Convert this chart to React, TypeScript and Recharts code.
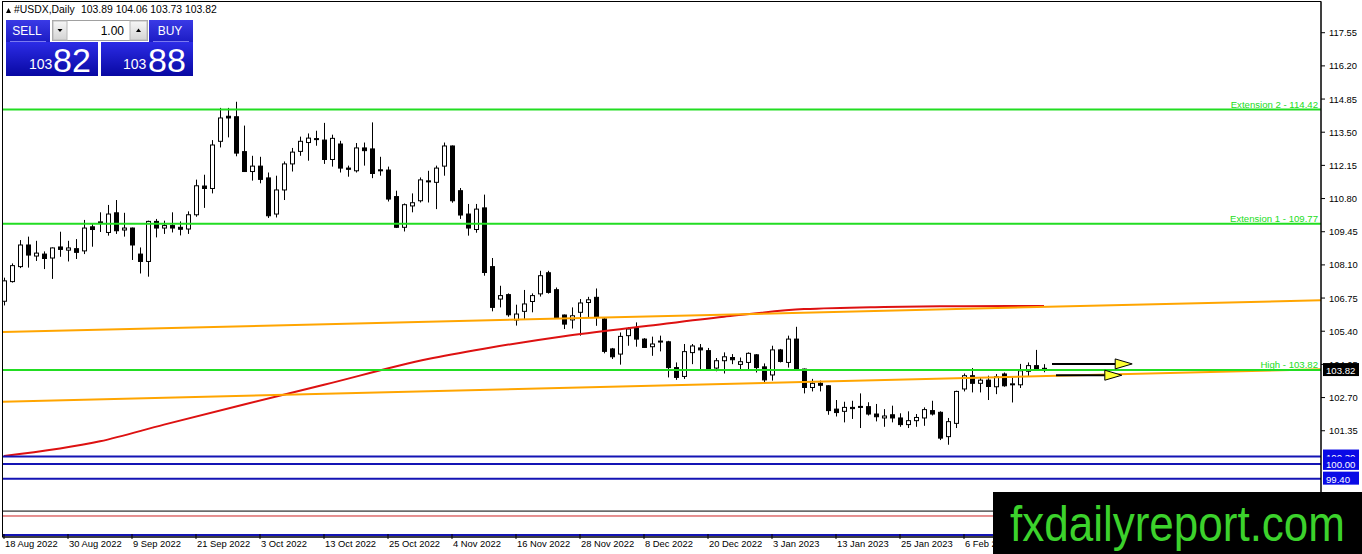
import React from "react";
import { Bar, ComposedChart, Line, ReferenceLine, XAxis, YAxis } from "recharts";

// USDX daily, 18 Aug 2022 .. 20 Feb 2023 (one entry per bar)
const opens = [
  106.62, 107.42, 108.03, 108.91, 108.46, 108.54, 108.38, 108.83, 108.7, 108.76,
  108.67, 109.65, 109.82, 109.42, 110.22, 109.52, 109.6, 108.54, 108.24, 109.87,
  109.6, 109.7, 109.63, 109.56, 110.14, 111.31, 111.21, 113.13, 114.15, 114.13,
  112.71, 111.9, 112.12, 111.64, 110.17, 111.15, 112.21, 112.72, 113.08, 113.24,
  113.18, 112.39, 113.02, 112.04, 111.93, 112.86, 112.82, 111.97, 111.96, 110.88,
  109.63, 110.5, 110.71, 111.52, 111.46, 112.12, 112.94, 111.12, 110.17, 109.54,
  110.42, 108.03, 106.71, 106.89, 105.86, 106.21, 106.61, 106.92, 107.78, 107.09,
  106.06, 105.86, 106.17, 106.57, 106.78, 105.9, 104.68, 104.47, 105.22, 105.53,
  105.08, 104.77, 104.98, 104.97, 103.92, 103.56, 104.53, 104.72, 104.61, 103.9,
  104.2, 104.33, 104.05, 104.13, 104.44, 103.95, 103.62, 104.64, 104.13, 105.08,
  103.86, 103.11, 103.28, 103.18, 102.23, 102.14, 102.3, 102.34, 102.33, 102.03,
  101.87, 102.0, 101.87, 101.6, 101.76, 101.87, 102.17, 102.1, 101.11, 101.65,
  103.05, 103.59, 103.28, 103.41, 103.14, 103.66, 103.24, 103.22, 103.77, 104.0,
  103.89,
];
const highs = [
  107.58, 108.16, 109.11, 109.25, 109.08, 108.65, 108.81, 109.45, 109.08, 109.15,
  109.93, 109.76, 110.24, 110.54, 110.74, 110.22, 109.62, 108.81, 109.9, 109.97,
  109.9, 110.24, 109.87, 110.28, 111.57, 111.77, 113.18, 114.49, 114.49, 114.74,
  113.77, 112.54, 112.5, 111.86, 111.73, 112.31, 112.86, 113.32, 113.45, 113.56,
  113.88, 113.4, 113.15, 112.14, 113.06, 113.08, 113.9, 112.5, 112.1, 111.12,
  110.6, 111.01, 111.66, 111.93, 112.14, 113.08, 112.96, 111.23, 110.58, 110.58,
  110.96, 108.38, 107.25, 106.94, 106.48, 107.08, 106.94, 107.86, 107.86, 107.18,
  106.08, 106.37, 106.71, 106.8, 107.14, 105.94, 104.72, 105.35, 105.56, 105.76,
  105.12, 105.18, 105.22, 105.01, 104.13, 104.88, 104.88, 104.88, 104.72, 104.31,
  104.54, 104.47, 104.33, 104.54, 104.47, 104.09, 104.81, 104.68, 105.22, 105.58,
  103.88, 103.46, 103.39, 103.2, 102.6, 102.53, 102.57, 102.87, 102.51, 102.44,
  102.23, 102.37, 102.06, 102.14, 102.03, 102.3, 102.57, 102.14, 101.87, 102.98,
  103.68, 103.9, 103.52, 103.59, 103.66, 103.72, 103.52, 104.07, 104.13, 104.64,
  104.06,
];
const lows = [
  106.45, 107.38, 107.97, 107.99, 108.26, 107.93, 107.53, 108.43, 108.24, 108.34,
  108.54, 108.84, 109.44, 109.29, 109.36, 109.25, 108.3, 107.75, 107.62, 109.22,
  109.36, 109.42, 109.3, 109.36, 110.06, 110.42, 111.01, 112.88, 113.29, 112.52,
  111.88, 111.53, 111.42, 110.01, 110.03, 110.74, 111.9, 112.54, 112.34, 112.95,
  112.21, 112.1, 111.86, 111.69, 111.86, 112.14, 111.63, 111.73, 110.68, 109.6,
  109.46, 110.24, 110.64, 110.64, 110.37, 111.73, 110.63, 109.97, 109.29, 109.41,
  107.66, 106.21, 106.37, 105.99, 105.63, 105.9, 106.17, 106.81, 106.93, 105.94,
  105.49, 105.51, 105.22, 105.96, 105.62, 104.5, 104.27, 104.04, 104.81, 104.77,
  104.72, 104.4, 104.58, 103.52, 103.42, 103.46, 104.06, 103.79, 103.79, 103.77,
  103.68, 104.06, 103.86, 103.82, 103.72, 103.28, 103.39, 104.13, 103.92, 103.82,
  102.87, 102.95, 102.95, 102.0, 101.93, 101.69, 101.83, 101.46, 101.97, 101.73,
  101.51, 101.69, 101.51, 101.46, 101.51, 101.55, 101.97, 100.97, 100.78, 101.46,
  102.95, 102.91, 102.91, 102.6, 102.84, 103.14, 102.5, 103.09, 103.55, 103.79,
  103.73,
];
const closes = [
  107.45, 108.07, 108.91, 108.5, 108.58, 108.36, 108.79, 108.73, 108.79, 108.61,
  109.6, 109.54, 109.85, 110.17, 109.49, 109.6, 108.91, 108.24, 109.87, 109.6,
  109.7, 109.6, 109.55, 110.14, 111.32, 111.21, 112.98, 114.08, 114.08, 112.65,
  111.9, 112.12, 111.58, 110.1, 111.15, 112.21, 112.69, 113.13, 113.26, 113.22,
  112.39, 113.25, 112.04, 111.99, 112.86, 112.75, 111.82, 111.95, 110.78, 109.63,
  110.55, 110.63, 111.56, 111.48, 112.04, 112.94, 110.71, 110.13, 109.6, 110.37,
  107.79, 106.37, 106.85, 106.07, 106.1, 106.51, 106.85, 107.66, 106.98, 105.96,
  105.69, 106.03, 106.55, 106.68, 105.96, 104.58, 104.36, 105.19, 105.49, 105.08,
  104.74, 104.88, 105.0, 103.92, 103.52, 104.57, 104.8, 104.64, 103.86, 104.2,
  104.36, 104.24, 104.16, 104.5, 103.92, 103.42, 104.64, 104.17, 105.08, 103.86,
  103.11, 103.28, 103.2, 102.17, 102.09, 102.3, 102.25, 102.31, 102.03, 101.92,
  101.95, 101.87, 101.6, 101.76, 101.89, 102.21, 102.03, 101.05, 101.72, 102.95,
  103.59, 103.28, 103.41, 103.15, 103.55, 103.18, 103.26, 103.79, 104.0, 103.86,
  103.82,
];

// red moving average, read at a few bars
const maBars = [0, 12, 20, 30, 40, 53, 60, 70, 80, 90, 100, 110, 120, 130];
const maValues = [
  100.32, 100.92, 101.6, 102.42, 103.22, 104.27, 104.69, 105.2, 105.6, 105.99,
  106.3, 106.39, 106.42, 106.43,
];

const dateLabels = [
  "18 Aug 2022", "30 Aug 2022", "9 Sep 2022", "21 Sep 2022", "3 Oct 2022",
  "13 Oct 2022", "25 Oct 2022", "4 Nov 2022", "16 Nov 2022", "28 Nov 2022",
  "8 Dec 2022", "20 Dec 2022", "3 Jan 2023", "13 Jan 2023", "25 Jan 2023",
  "6 Feb 2023",
];
const barsPerLabel = 8;

const priceTicks = [
  117.55, 116.2, 114.85, 113.5, 112.15, 110.8, 109.45, 108.1, 106.75, 105.4,
  104.05, 102.7, 101.35,
];

const fibLevels = [114.42, 109.77, 103.82];
const fibLabels = ["Extension 2 - 114.42", "Extension 1 - 109.77", "High - 103.82"];
const supportLevels = [100.3, 100.0, 99.4];
const lowerBlack = 98.08;
const lowerRed = 97.88;
const lowerBlue = 97.11;
const bidPrice = 103.82;
const askPrice = 103.88;
const lotSize = "1.00";

const upperTrend = [{ x: -0.125, y: 105.37 }, { x: 164.625, y: 106.66 }];
const lowerTrend = [{ x: -0.125, y: 102.53 }, { x: 164.625, y: 103.85 }];
const arrows = [
  { from: 131, to: 138.9, price: 104.07 },
  { from: 131.5, to: 137.6, price: 103.61 },
];

const xDomain = [-0.125, 164.625];
const yDomain = [97.025, 118.8];

const rows = opens.map((o, i) => {
  const k = maBars.indexOf(i);
  return {
    i,
    open: o,
    high: highs[i],
    low: lows[i],
    close: closes[i],
    range: [lows[i], highs[i]],
    ma: k >= 0 ? maValues[k] : null,
  };
});

const FONT = "Liberation Sans, Arial, sans-serif";
const GREEN = "#22dd22";
const NAVY = "#1414b4";
const TAG_BLUE = "#0a0ae6";

const Candle = (props: any) => {
  const { x, y, width, height, payload } = props;
  if (x == null || payload == null) return null;
  const top = Math.min(y, y + height);
  const h = Math.abs(height);
  const ratio = h / (payload.high - payload.low || 1);
  const cx = Math.round(x + width / 2) + 0.5;
  const bodyTop = top + (payload.high - Math.max(payload.open, payload.close)) * ratio;
  const bodyH = Math.max(1, Math.abs(payload.open - payload.close) * ratio);
  const up = payload.close >= payload.open;
  return (
    <g>
      <line x1={cx} x2={cx} y1={top} y2={top + h} stroke="#000" strokeWidth={1} />
      <rect
        x={cx - 2}
        y={bodyTop}
        width={4}
        height={bodyH}
        fill={up ? "#fff" : "#000"}
        stroke="#000"
        strokeWidth={1}
      />
    </g>
  );
};

const DateTick = (props: any) => {
  const { x, y, payload } = props;
  const label = dateLabels[Math.round(payload.value / barsPerLabel)];
  return (
    <g>
      <line x1={x} x2={x} y1={y - 3} y2={y + 2} stroke="#000" />
      <text x={x + 1} y={y + 10} fontSize={9.4} fontFamily={FONT} fill="#000">
        {label}
      </text>
    </g>
  );
};

const PriceTick = (props: any) => {
  const { x, y, payload } = props;
  return (
    <g>
      <line x1={x} x2={x + 4} y1={y} y2={y} stroke="#000" />
      <text x={x + 8} y={y + 3.5} fontSize={9.4} fontFamily={FONT} fill="#000">
        {Number(payload.value).toFixed(2)}
      </text>
    </g>
  );
};

const lineLabel = (text: string) => (p: any) => {
  const vb = p.viewBox;
  if (!vb) return null;
  return (
    <text
      x={vb.x + vb.width - 3}
      y={vb.y - 2}
      textAnchor="end"
      fontSize={9.6}
      fontFamily={FONT}
      fill={GREEN}
    >
      {text}
    </text>
  );
};

const priceTag = (value: number, bg: string) => (p: any) => {
  const vb = p.viewBox;
  if (!vb) return null;
  const left = vb.x + vb.width + 2;
  return (
    <g>
      <rect x={left} y={vb.y - 7} width={36} height={13} fill={bg} />
      <text x={left + 3} y={vb.y + 4} fontSize={9.6} fontFamily={FONT} fill="#fff">
        {value.toFixed(2)}
      </text>
    </g>
  );
};

const arrowShape = (p: any) => {
  const { x1, y1, x2, y2 } = p;
  if (x1 == null) return null;
  return (
    <g>
      <line x1={x1} y1={y1} x2={x2} y2={y2} stroke="#000" strokeWidth={2} />
      <polygon
        points={`${x2},${y2 - 5} ${x2 + 17},${y2} ${x2},${y2 + 5}`}
        fill="#ffff33"
        stroke="#000"
        strokeWidth={1}
      />
    </g>
  );
};

function TradePanel() {
  const bidStr = bidPrice.toFixed(2);
  const askStr = askPrice.toFixed(2);
  const last = opens.length - 1;
  return (
    <svg
      width={1362}
      height={554}
      style={{ position: "absolute", left: 0, top: 0, pointerEvents: "none" }}
    >
      <defs>
        <linearGradient id="bigBlue" x1="0" y1="0" x2="0" y2="1">
          <stop offset="0" stopColor="#2c2ce6" />
          <stop offset="1" stopColor="#0808a2" />
        </linearGradient>
        <linearGradient id="btnBlue" x1="0" y1="0" x2="0" y2="1">
          <stop offset="0" stopColor="#3a3ae6" />
          <stop offset="1" stopColor="#1c1cc4" />
        </linearGradient>
        <linearGradient id="grey" x1="0" y1="0" x2="0" y2="1">
          <stop offset="0" stopColor="#f6f6f6" />
          <stop offset="1" stopColor="#d4d4d4" />
        </linearGradient>
      </defs>
      {/* chart frame */}
      <rect x={2.5} y={1.5} width={1318.5} height={535.5} fill="none" stroke="#000" />
      {/* header */}
      <polygon points="6,13 11,13 8.5,8" fill="#000" />
      <text x={14} y={13} fontSize={10.4} fontFamily={FONT} fill="#000">
        #USDX,Daily
      </text>
      <text x={81} y={13} fontSize={10.4} fontFamily={FONT} fill="#000">
        {`${opens[last].toFixed(2)} ${highs[last].toFixed(2)} ${lows[last].toFixed(2)} ${closes[last].toFixed(2)}`}
      </text>
      {/* one-click trading */}
      <rect x={6} y={20} width={44} height={22} fill="url(#btnBlue)" />
      <text x={27} y={35} textAnchor="middle" fontSize={12} fontFamily={FONT} fill="#fff">
        SELL
      </text>
      <rect x={52.5} y={20.5} width={95} height={20} fill="#fff" stroke="#a0a0a0" />
      <rect x={53} y={21} width={14} height={19} fill="url(#grey)" stroke="#b8b8b8" />
      <polygon points="57.5,29 62.5,29 60,32" fill="#000" />
      <text x={124} y={35} textAnchor="end" fontSize={12} fontFamily={FONT} fill="#000">
        {lotSize}
      </text>
      <rect x={130} y={21} width={17} height={19} fill="url(#grey)" stroke="#b8b8b8" />
      <polygon points="136,32 141,32 138.5,28.5" fill="#000" />
      <rect x={149} y={20} width={44} height={22} fill="url(#btnBlue)" />
      <text x={170} y={35} textAnchor="middle" fontSize={12} fontFamily={FONT} fill="#fff">
        BUY
      </text>
      <line x1={10} x2={46} y1={41.5} y2={41.5} stroke="#7a7af0" />
      <line x1={153} x2={189} y1={41.5} y2={41.5} stroke="#7a7af0" />
      <rect x={6} y={42} width={92} height={34} fill="url(#bigBlue)" />
      <rect x={101} y={42} width={92} height={34} fill="url(#bigBlue)" />
      <text x={29} y={69} fontSize={14} fontFamily={FONT} fill="#fff">
        {bidStr.slice(0, 3)}
      </text>
      <text x={53} y={72} fontSize={34} fontFamily={FONT} fill="#fff">
        {bidStr.slice(4)}
      </text>
      <text x={123} y={69} fontSize={14} fontFamily={FONT} fill="#fff">
        {askStr.slice(0, 3)}
      </text>
      <text x={148} y={72} fontSize={34} fontFamily={FONT} fill="#fff">
        {askStr.slice(4)}
      </text>
      {/* watermark */}
      <rect x={993} y={492} width={369} height={62} fill="#000" />
      <text
        x={1010}
        y={541}
        fontSize={50}
        fontFamily={FONT}
        fill="#3cd22c"
        textLength={335}
        lengthAdjust="spacingAndGlyphs"
      >
        fxdailyreport.com
      </text>
    </svg>
  );
}

function App() {
  const dateTicks = dateLabels.map((_, k) => k * barsPerLabel);
  return (
    <div
      style={{
        position: "absolute",
        left: 0,
        top: 0,
        width: 1362,
        height: 554,
        background: "#fff",
        overflow: "hidden",
      }}
    >
      <ComposedChart
        width={1362}
        height={554}
        data={rows}
        margin={{ top: 2, right: 0, bottom: 0, left: 3 }}
      >
        <XAxis
          dataKey="i"
          type="number"
          domain={xDomain}
          allowDataOverflow
          ticks={dateTicks}
          interval={0}
          height={17}
          tickSize={0}
          tickMargin={0}
          tickLine={false}
          axisLine={{ stroke: "#000" }}
          tick={<DateTick />}
        />
        <YAxis
          orientation="right"
          type="number"
          domain={yDomain}
          allowDataOverflow
          ticks={priceTicks}
          interval={0}
          width={41}
          tickSize={0}
          tickMargin={0}
          tickLine={false}
          axisLine={{ stroke: "#000" }}
          tick={<PriceTick />}
        />
        <Bar
          dataKey="range"
          barSize={5}
          shape={<Candle />}
          isAnimationActive={false}
        />
        <Line
          dataKey="ma"
          type="monotone"
          stroke="#dd1111"
          strokeWidth={2}
          dot={false}
          connectNulls
          isAnimationActive={false}
        />
        <ReferenceLine segment={upperTrend} stroke="#ffa500" strokeWidth={2} ifOverflow="hidden" />
        <ReferenceLine segment={lowerTrend} stroke="#ffa500" strokeWidth={2} ifOverflow="hidden" />
        {fibLevels.map((v, k) => (
          <ReferenceLine
            key={"fib" + k}
            y={v}
            stroke={GREEN}
            strokeWidth={2}
            label={lineLabel(fibLabels[k])}
          />
        ))}
        {supportLevels.map((v) => (
          <ReferenceLine
            key={"sup" + v}
            y={v}
            stroke={NAVY}
            strokeWidth={2}
            label={priceTag(v, TAG_BLUE)}
          />
        ))}
        <ReferenceLine y={lowerBlack} stroke="#000" strokeWidth={1} />
        <ReferenceLine y={lowerRed} stroke="#cc2222" strokeWidth={1} />
        <ReferenceLine y={lowerBlue} stroke={NAVY} strokeWidth={2} />
        <ReferenceLine y={bidPrice} stroke="none" label={priceTag(bidPrice, "#000")} />
        {arrows.map((a, k) => (
          <ReferenceLine
            key={"arr" + k}
            segment={[{ x: a.from, y: a.price }, { x: a.to, y: a.price }]}
            shape={arrowShape}
            ifOverflow="visible"
          />
        ))}
      </ComposedChart>
      <TradePanel />
    </div>
  );
}

export default App;
